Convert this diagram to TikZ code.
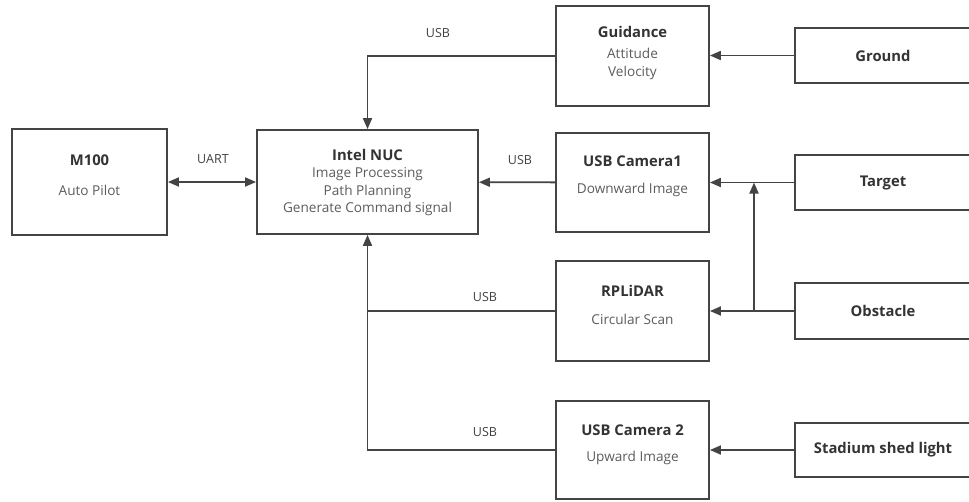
\documentclass[tikz,border=0pt]{standalone}
\usepackage{fontspec}
\setmainfont{Open Sans}
\usetikzlibrary{arrows.meta}

\definecolor{linegray}{HTML}{444444}
\definecolor{subgray}{HTML}{5C5C5C}
\tikzset{
  blk/.style={draw=linegray, line width=1.8pt, rectangle, inner sep=0pt},
  ttl/.style={font=\bfseries\fontsize{14.8}{17}\selectfont, text=black!80},
  sub/.style={font=\fontsize{13.6}{17.5}\selectfont, text=subgray, align=center},
  lbl/.style={font=\fontsize{12.5}{14}\selectfont, text=black!75},
  link/.style={draw=linegray, line width=1.8pt},
  tip/.style={-{Triangle[length=11pt,width=9pt]}},
}

\begin{document}
\begin{tikzpicture}[x=1pt, y=-1pt]
  \useasboundingbox (0,0) rectangle (969,501);
  % left and middle boxes
  \node[blk, minimum width=155, minimum height=106] (m100) at (89.5,182) {};
  \node[blk, minimum width=221, minimum height=104] (nuc) at (367.5,182) {};
  \node[blk, minimum width=153, minimum height=100] (guid) at (632.5,56) {};
  \node[blk, minimum width=153, minimum height=99] (cam1) at (632.5,182.5) {};
  \node[blk, minimum width=153, minimum height=100] (lidar) at (632.5,311) {};
  \node[blk, minimum width=153, minimum height=98] (cam2) at (632.5,450) {};
  % right boxes
  \node[blk, ttl, minimum width=176, minimum height=55] (ground) at (883,55.5) {Ground};
  \node[blk, ttl, minimum width=176, minimum height=55] (target) at (883,182.5) {Target};
  \node[blk, ttl, minimum width=176, minimum height=56] (obst) at (883,311) {Obstacle};
  \node[blk, ttl, minimum width=176, minimum height=54] (light) at (883,450) {Stadium shed light};
  % box texts
  \node[ttl] (m100t) at (89.5,160) {M100};
  \node[sub] (m100s) at (89.5,190) {Auto Pilot};
  \node[ttl] (nuct) at (367.5,155) {Intel NUC};
  \node[sub] (nucs) at (367.5,192) {Image Processing\\Path Planning\\Generate Command signal};
  \node[ttl] (guidt) at (632.5,32) {Guidance};
  \node[sub] (guids) at (632.5,64) {Attitude\\Velocity};
  \node[ttl] (cam1t) at (632.5,161) {USB Camera1};
  \node[sub] (cam1s) at (632.5,190) {Downward Image};
  \node[ttl] (lidart) at (632.5,291) {RPLiDAR};
  \node[sub] (lidars) at (632.5,319) {Circular Scan};
  \node[ttl] (cam2t) at (632.5,430) {USB Camera 2};
  \node[sub] (cam2s) at (632.5,458) {Upward Image};
  % Draw the links
  \draw[link, {Triangle[length=11pt,width=9pt]}-{Triangle[length=11pt,width=9pt]}] (m100) -- (nuc);
  \draw[link, tip] (guid.west) -| (nuc.north);
  \draw[link, tip] (cam1) -- (nuc);
  \draw[link] (lidar.west) -- (lidar.west -| nuc.south);
  \draw[link, tip] (cam2.west) -| (nuc.south);
  \draw[link, tip] (ground.west) -- (ground.west -| guid.east);
  \draw[link, tip] (target.west) -- (target.west -| cam1.east);
  \draw[link, tip] (obst.west) -- (obst.west -| lidar.east);
  \coordinate (jn) at (754,311);
  \draw[link, tip] (jn) -- (jn |- target.west);
  \draw[link, tip] (light.west) -- (light.west -| cam2.east);
  % link labels
  \node[lbl] (uart) at (213,159) {UART};
  \node[lbl] (usb1) at (438,33) {USB};
  \node[lbl] (usb2) at (520,160) {USB};
  \node[lbl] (usb3) at (485,297) {USB};
  \node[lbl] (usb4) at (485,432) {USB};
\end{tikzpicture}
\end{document}
